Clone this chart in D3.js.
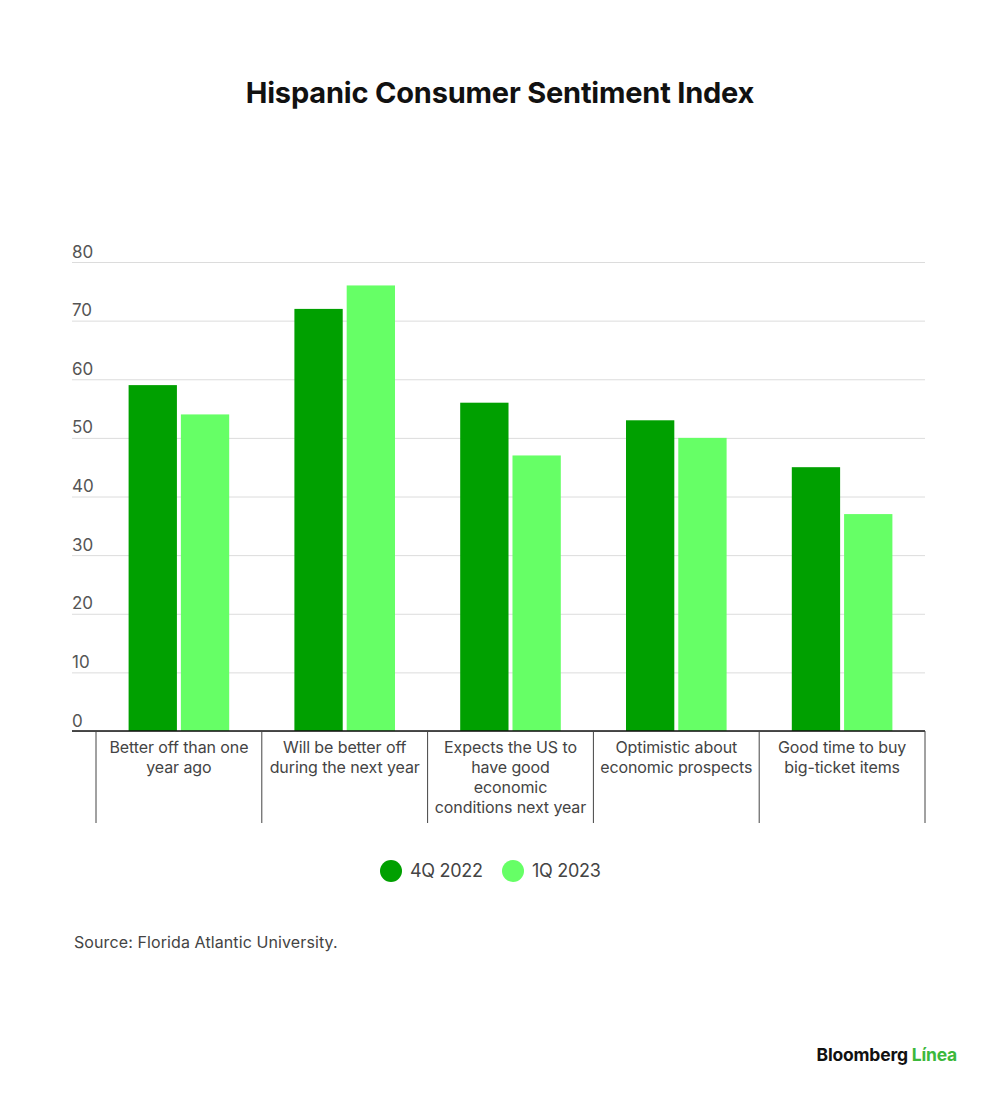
<!DOCTYPE html>
<html>
<head>
<meta charset="utf-8">
<script src="https://cdn.jsdelivr.net/npm/d3@7"></script>
<style>
  body { margin: 0; background: #fff; }
  svg { font-family: Inter, "Noto Sans", sans-serif; }
</style>
</head>
<body>
<script>
// chart values
let categories = [
    "Better off than one year ago",
    "Will be better off during the next year",
    "Expects the US to have good economic conditions next year",
    "Optimistic about economic prospects",
    "Good time to buy big-ticket items"
];
let categoryLines = [
    ["Better off than one", "year ago"],
    ["Will be better off", "during the next year"],
    ["Expects the US to", "have good", "economic", "conditions next year"],
    ["Optimistic about", "economic prospects"],
    ["Good time to buy", "big-ticket items"]
];
let seriesNames = ["4Q 2022", "1Q 2023"];
let q4_2022 = [59, 72, 56, 53, 45];
let q1_2023 = [54, 76, 47, 50, 37];
let yTicks = [0, 10, 20, 30, 40, 50, 60, 70, 80];

let width = 1000, height = 1100;
let plot = {left: 96, right: 925, top: 262, bottom: 731, gridLeft: 72};

let colorScaler = d3.scaleOrdinal()
    .domain(seriesNames)
    .range(["#00a000", "#66ff66"]);

let svg = d3.select("body")
    .append("svg")
    .attr("width", width)
    .attr("height", height);

let data = categories.map((c, i) => ({
    cat: c,
    values: [
        {name: seriesNames[0], value: q4_2022[i]},
        {name: seriesNames[1], value: q1_2023[i]}
    ]
}));

let x0 = d3.scaleBand()
    .domain(categories)
    .range([plot.left, plot.right]);

let x1 = d3.scaleBand()
    .domain(seriesNames)
    .range([32.6, x0.bandwidth() - 32.6])
    .paddingInner(0.076);

let yScaler = d3.scaleLinear()
    .domain([0, 80])
    .range([plot.bottom, plot.top]);

// title
svg.append("text")
    .attr("x", 500)
    .attr("y", 103)
    .attr("text-anchor", "middle")
    .style("font-size", "29px")
    .style("font-weight", 700)
    .style("letter-spacing", "-0.2px")
    .style("fill", "#111")
    .text("Hispanic Consumer Sentiment Index");

// gridlines + y labels
let yAxis = svg.append("g")
    .attr("transform", `translate(${plot.gridLeft},0)`)
    .call(d3.axisRight(yScaler)
        .tickValues(yTicks)
        .tickSize(plot.right - plot.gridLeft)
        .tickFormat(d3.format("d")));
yAxis.select(".domain").remove();
yAxis.selectAll(".tick line").attr("stroke", "#dcdcdc");
yAxis.selectAll(".tick text")
    .attr("x", 0)
    .attr("dy", -5)
    .attr("text-anchor", "start")
    .style("font-size", "17px")
    .style("font-family", "Inter, sans-serif")
    .style("fill", "#555");

// bars
let groups = svg.selectAll(".group")
    .data(data)
    .enter()
    .append("g")
    .attr("class", "group")
    .attr("transform", d => `translate(${x0(d.cat)},0)`);

groups.selectAll("rect")
    .data(d => d.values)
    .enter()
    .append("rect")
    .attr("x", d => x1(d.name))
    .attr("width", x1.bandwidth())
    .attr("y", d => yScaler(d.value))
    .attr("height", d => yScaler(0) - yScaler(d.value))
    .style("fill", d => colorScaler(d.name));

// baseline
svg.append("line")
    .attr("x1", plot.gridLeft)
    .attr("x2", plot.right)
    .attr("y1", yScaler(0))
    .attr("y2", yScaler(0))
    .attr("stroke", "#111")
    .attr("stroke-width", 1.5);

// category dividers
let bounds = categories.map(c => x0(c)).concat([plot.right]);
svg.selectAll(".divider")
    .data(bounds)
    .enter()
    .append("line")
    .attr("class", "divider")
    .attr("x1", d => d)
    .attr("x2", d => d)
    .attr("y1", yScaler(0))
    .attr("y2", 823)
    .attr("stroke", "#444")
    .attr("stroke-width", 1);

// category labels
let labels = svg.selectAll(".catlabel")
    .data(categories)
    .enter()
    .append("text")
    .attr("class", "catlabel")
    .attr("x", d => x0(d) + x0.bandwidth() / 2)
    .attr("y", 753)
    .attr("text-anchor", "middle")
    .style("font-size", "16px")
    .style("letter-spacing", "-0.1px")
    .style("fill", "#444");

labels.selectAll("tspan")
    .data((d, i) => categoryLines[i])
    .enter()
    .append("tspan")
    .attr("x", function () { return d3.select(this.parentNode).attr("x"); })
    .attr("dy", (d, i) => i === 0 ? 0 : 20)
    .text(d => d);

// legend
let legendX = [391, 513];
let legend = svg.selectAll(".legend")
    .data(seriesNames)
    .enter()
    .append("g")
    .attr("class", "legend")
    .attr("transform", (d, i) => `translate(${legendX[i]}, 871)`);

legend.append("circle")
    .attr("r", 11)
    .style("fill", colorScaler);

legend.append("text")
    .attr("x", 19)
    .attr("dy", "0.35em")
    .style("font-size", "18px")
    .style("letter-spacing", "-0.3px")
    .style("fill", "#444")
    .text(d => d);

// source
svg.append("text")
    .attr("x", 74)
    .attr("y", 948)
    .style("font-size", "16px")
    .style("letter-spacing", "0.1px")
    .style("fill", "#444")
    .text("Source: Florida Atlantic University.");

// logo
let logo = svg.append("text")
    .attr("x", 957)
    .attr("y", 1061)
    .attr("text-anchor", "end")
    .style("font-size", "17.5px")
    .style("font-weight", 700)
    .style("letter-spacing", "-0.2px");
logo.append("tspan").style("fill", "#111").text("Bloomberg ");
logo.append("tspan").style("fill", "#3cb83c").text("Línea");
</script>
</body>
</html>
